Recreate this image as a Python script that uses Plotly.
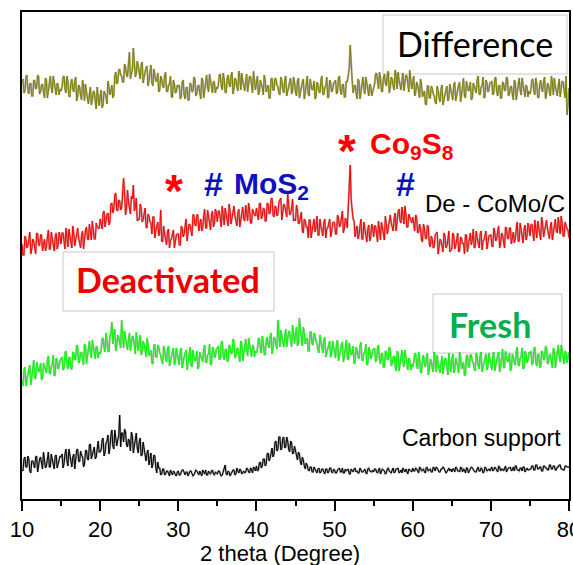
import numpy as np
import plotly.graph_objects as go

# 2-theta scan grid (degrees), 0.125 deg steps
two_theta = np.linspace(10, 80, 561)

# Intensities (arbitrary units, traces offset vertically as in the figure)
# *_a: readings at 10.00, 10.25, ... ; *_b: readings in between (10.125, 10.375, ...)
difference_a = [
    419,407,423,410,416,404,420,411,425,406,415,408,422,402,418,412,424,409,417,405,
    409,423,411,424,404,417,411,419,399,415,404,420,399,408,396,413,400,408,391,404,
    403,392,409,403,419,405,415,405,428,418,431,424,418,433,423,448,429,452,423,439,
    425,435,417,428,434,419,435,414,424,419,408,424,414,424,409,415,424,403,416,408,
    413,401,418,405,412,400,417,408,423,404,414,407,422,402,419,413,426,411,419,407,
    411,425,414,427,408,421,416,424,406,422,413,429,410,419,409,426,415,423,407,420,
    417,405,420,412,425,408,415,402,422,410,421,413,405,419,407,424,411,418,406,423,
    408,419,402,414,421,407,424,404,415,411,401,418,409,420,406,413,423,403,417,410,
    418,406,422,409,415,403,419,425,455,420,414,407,421,401,417,411,423,408,416,404,
    412,426,415,428,409,422,417,425,407,423,414,430,411,420,410,427,416,424,408,421,
    417,404,418,409,421,403,409,395,414,402,412,404,396,410,398,415,403,410,399,416,
    404,415,399,411,418,405,422,402,414,410,400,417,409,420,406,413,423,403,417,410,
    417,405,421,408,414,402,418,409,423,404,413,406,420,400,416,410,422,407,415,403,
    406,420,409,422,403,416,411,419,401,417,408,424,405,414,404,421,410,418,402,385,
    412,
]
difference_b = [
    421,409,425,406,417,404,419,412,423,408,416,402,420,410,424,407,418,405,415,411,
    413,424,407,418,403,421,408,423,404,413,400,414,416,401,406,395,409,399,413,394,
    410,395,406,396,413,409,402,424,416,430,425,418,436,425,436,421,431,440,426,434,
    421,438,424,432,414,428,417,431,419,427,410,421,412,428,408,416,403,420,407,415,
    415,403,420,401,413,400,416,409,421,406,415,401,420,410,425,408,420,407,417,413,
    415,426,410,421,407,425,413,428,411,420,409,423,427,412,419,408,424,414,429,410,
    424,408,417,405,419,412,402,421,410,422,415,407,423,411,420,404,413,422,409,418,
    404,422,409,418,401,416,406,421,410,419,403,415,407,424,405,414,402,420,408,417,
    420,408,424,405,416,403,418,432,428,407,415,401,419,409,423,406,417,404,414,410,
    416,427,411,422,408,426,414,429,412,421,410,424,428,413,420,409,425,415,430,411,
    424,407,415,402,415,407,396,414,402,414,406,398,414,402,411,395,405,414,402,411,
    400,418,406,415,398,414,404,419,409,418,402,414,407,424,405,414,402,420,408,417,
    419,407,423,404,415,402,417,410,421,406,414,400,418,408,422,405,416,403,413,409,
    410,421,405,416,402,420,408,423,406,415,404,418,422,407,414,403,419,409,424,395,
]
deactivated_a = [
    256,245,261,254,268,251,259,246,266,254,265,257,249,263,251,268,256,263,251,268,
    256,267,251,263,271,257,274,254,266,262,252,269,261,273,260,268,279,261,277,272,
    281,271,289,278,287,278,297,291,307,289,299,292,322,285,310,293,304,315,293,279,
    280,292,280,292,272,284,277,283,262,275,264,290,258,266,255,271,260,268,252,265,
    266,255,272,266,281,266,275,264,285,274,285,277,269,284,272,290,277,285,273,291,
    278,289,273,285,292,279,296,276,288,284,274,291,282,293,279,287,297,277,291,285,
    292,280,297,284,291,279,296,287,302,283,293,286,300,280,296,290,306,285,292,279,
    279,290,277,288,267,279,273,280,262,278,268,284,265,274,264,281,271,279,263,277,
    277,266,282,275,289,272,279,295,335,290,279,270,261,274,261,278,265,271,259,276,
    263,274,258,270,278,265,284,266,279,277,269,287,279,291,277,284,294,273,286,278,
    283,269,283,268,272,258,272,261,273,253,261,253,266,246,261,255,267,252,260,248,
    251,265,254,267,249,262,257,265,248,264,255,271,253,262,252,269,259,267,251,264,
    265,253,268,261,274,257,265,252,272,261,272,264,257,271,259,277,264,271,260,277,
    264,276,259,272,279,265,283,263,274,271,261,278,269,281,267,274,284,264,278,271,
    262,
]
deactivated_b = [
    245,264,252,262,246,261,252,267,256,265,249,261,253,270,251,260,249,267,255,264,
    267,255,272,253,265,252,267,260,272,257,265,251,270,261,276,260,272,261,273,271,
    274,287,273,286,275,296,287,305,290,300,290,304,308,292,298,286,301,289,302,281,
    296,278,286,273,286,278,266,283,269,278,269,259,274,261,269,252,261,270,257,266,
    255,274,263,274,259,276,268,285,275,285,269,281,273,291,272,282,270,289,277,287,
    289,277,294,275,286,274,289,282,294,279,287,273,291,281,295,279,290,277,287,284,
    285,296,281,292,279,297,286,301,285,294,284,298,302,287,294,283,298,287,301,281,
    295,276,283,269,281,273,262,280,269,281,273,265,281,269,278,262,272,281,268,278,
    266,285,273,283,267,282,272,310,300,281,263,274,265,281,261,270,258,275,263,272,
    274,262,279,260,272,260,277,272,285,272,282,269,288,279,293,276,287,273,282,277,
    276,285,267,276,260,276,262,275,256,264,252,265,268,253,259,248,264,254,269,250,
    267,251,260,248,263,256,246,265,255,267,260,252,269,257,266,250,260,269,256,265,
    254,272,259,269,252,267,258,273,262,272,256,268,261,278,259,269,257,275,264,273,
    275,264,280,262,273,260,276,269,280,266,274,260,278,269,283,266,277,264,274,270,
]
fresh_a = [
    118,130,114,127,135,122,140,121,133,129,120,137,129,140,127,134,145,125,140,133,
    141,130,147,135,142,131,148,140,155,137,147,141,156,136,153,147,160,145,154,142,
    146,161,152,167,149,163,178,167,149,165,156,180,152,161,150,167,155,163,146,159,
    158,145,159,150,162,144,150,136,155,143,153,145,136,150,138,154,141,148,135,152,
    139,149,132,143,150,136,153,133,144,141,131,148,140,151,138,145,156,136,151,144,
    152,140,157,144,150,139,155,146,161,142,151,144,159,139,155,149,162,147,155,143,
    147,161,151,164,146,159,155,163,146,163,155,180,153,163,153,171,160,168,153,166,
    166,154,182,161,173,156,162,149,168,155,165,156,147,160,147,163,149,155,143,159,
    146,157,139,151,158,143,160,140,150,146,136,153,143,154,140,147,156,136,150,143,
    150,138,153,140,146,133,149,140,153,134,143,135,149,129,144,138,150,134,142,130,
    133,146,135,148,128,141,136,143,125,141,132,148,128,137,127,144,133,141,125,138,
    139,127,142,134,148,131,138,125,145,133,145,137,129,143,131,148,135,142,130,147,
    134,145,129,141,148,134,151,132,143,139,129,146,137,149,135,142,152,132,146,140,
    147,135,151,138,145,133,149,140,154,136,145,138,152,132,149,143,155,140,149,137,
    148,
]
fresh_b = [
    114,133,121,131,115,131,122,138,128,137,122,134,127,144,126,135,124,142,131,140,
    143,132,149,131,143,131,147,141,153,139,148,135,154,144,159,142,154,141,152,148,
    150,162,148,161,148,167,156,171,154,163,152,166,169,154,160,149,164,154,168,149,
    165,148,156,143,156,148,137,155,143,155,147,139,154,142,151,134,143,152,138,147,
    135,152,139,147,130,145,135,150,139,149,133,145,138,155,137,146,135,153,142,151,
    154,142,159,140,151,139,154,147,159,144,152,138,157,147,161,144,156,143,153,149,
    151,162,147,158,145,163,152,167,151,161,151,166,170,156,163,153,169,159,175,156,
    173,157,166,154,167,160,149,168,156,167,159,150,165,152,160,143,151,159,146,154,
    142,160,146,155,138,152,142,157,145,154,138,150,141,158,139,148,135,153,141,150,
    152,140,155,136,147,133,148,141,151,136,144,129,147,137,150,133,144,130,140,136,
    137,147,131,142,127,145,133,147,130,139,128,142,145,130,137,126,142,132,147,128,
    146,130,139,127,142,135,125,144,133,145,139,131,147,135,144,128,137,146,133,142,
    130,148,136,145,128,143,133,149,138,147,131,143,135,153,134,143,131,149,137,147,
    149,137,153,134,146,133,148,141,152,138,146,132,150,140,155,138,149,136,147,143,
]
carbon_a = [
    30,41,33,44,29,39,36,43,28,41,35,48,32,40,33,46,37,44,32,42,
    43,32,46,39,51,37,43,31,50,39,49,43,36,50,40,56,45,53,43,59,
    48,60,44,57,65,52,70,51,63,60,85,67,58,68,53,59,68,47,60,52,
    58,44,58,43,47,35,47,36,44,27,32,25,31,25,29,26,30,25,28,24,
    29,25,30,26,28,24,29,27,25,30,26,29,24,28,30,25,27,29,26,28,
    26,29,24,28,35,25,28,26,30,25,32,27,30,28,27,32,28,32,27,32,
    34,30,38,34,41,36,47,42,52,46,59,51,63,52,63,53,59,48,57,47,
    50,40,46,35,40,31,35,29,33,28,31,27,32,28,31,26,31,28,32,27,
    30,27,31,28,32,27,29,31,26,30,31,28,27,32,28,30,27,31,29,28,
    28,31,27,32,28,30,26,31,29,27,32,28,31,27,30,32,28,27,31,30,
    32,29,31,27,32,30,28,33,29,31,28,32,33,29,28,31,32,27,31,29,
    28,31,33,29,28,32,31,27,32,29,33,30,28,31,29,32,27,33,29,31,
    32,29,33,30,34,29,31,33,28,32,33,30,29,34,30,32,29,33,31,30,
    31,34,30,35,31,33,29,34,32,30,35,31,34,30,33,35,31,30,34,33,
    33,
]
carbon_b = [
    29,43,33,41,27,39,32,44,35,43,31,40,34,48,33,41,31,45,37,44,
    46,36,51,34,44,33,46,40,51,38,45,33,49,41,55,41,52,41,51,48,
    50,62,47,59,46,65,54,70,54,64,53,67,71,55,61,49,64,53,67,47,
    62,45,52,39,50,41,32,45,32,38,32,26,31,26,29,24,26,29,25,28,
    25,28,30,25,28,26,29,24,28,29,25,27,30,26,25,29,26,30,25,27,
    29,26,25,30,26,29,24,28,30,26,29,31,26,29,28,31,27,31,33,29,
    29,37,32,41,34,46,39,50,43,58,49,63,50,62,52,63,51,59,46,54,
    44,48,38,43,34,37,30,33,28,33,28,31,27,31,28,31,27,32,28,31,
    27,30,32,28,27,31,30,26,31,28,32,29,27,30,28,31,26,32,28,30,
    31,28,30,26,31,29,27,32,28,30,27,31,32,28,27,30,31,26,30,28,
    29,32,28,33,29,31,27,32,30,28,33,29,32,28,31,33,29,28,32,31,
    31,28,32,29,33,28,30,32,27,31,32,29,28,33,29,31,28,32,30,29,
    33,30,32,28,33,31,29,34,30,32,29,33,34,30,29,32,33,28,32,30,
    31,34,30,35,31,33,29,34,32,30,35,31,34,30,33,35,31,30,34,33,
]


def merge(a, b):
    out = []
    for i, v in enumerate(a):
        out.append(v)
        if i < len(b):
            out.append(b[i])
    return out


difference = merge(difference_a, difference_b)
deactivated = merge(deactivated_a, deactivated_b)
fresh = merge(fresh_a, fresh_b)
carbon = merge(carbon_a, carbon_b)
for s in (difference, deactivated, fresh, carbon):
    assert len(s) == len(two_theta), len(s)

x_ticks = [10, 20, 30, 40, 50, 60, 70, 80]

series = [
    (difference, "#808000", "rgba(125,125,105,0.6)"),
    (deactivated, "#ff0000", "rgba(160,80,80,0.6)"),
    (fresh, "#00ff00", "rgba(100,160,100,0.6)"),
    (carbon, "#000000", "rgba(100,100,100,0.6)"),
]

W, H = 573, 565
L, R, T, B = 22, 4, 12, 66
pw, ph = W - L - R, H - T - B


def px(x):
    return (x - L) / pw


def py(y):
    return (H - B - y) / ph


fig = go.Figure()
for ys, col, edge in series:
    fig.add_trace(go.Scatter(x=two_theta, y=ys, mode="lines",
                             line=dict(color=edge, width=2), hoverinfo="skip",
                             showlegend=False, cliponaxis=True))
    fig.add_trace(go.Scatter(x=two_theta, y=ys, mode="lines",
                             line=dict(color=col, width=1), hoverinfo="skip",
                             showlegend=False, cliponaxis=True))

ARIAL = "Liberation Sans, Arial"
CAL = "Lato, Carlito, Calibri"

shapes = []
for x0, y0, x1, y1 in [(383, 15, 567, 74), (63, 252, 274, 311), (433, 294, 562, 353)]:
    shapes.append(dict(type="rect", xref="paper", yref="paper",
                       x0=px(x0), x1=px(x1), y0=py(y1), y1=py(y0),
                       line=dict(color="#c8c8c8", width=1), fillcolor="white",
                       layer="below"))

anns = []


def ann(text, x, y, size, color, family, xanchor="center"):
    anns.append(dict(text=text, x=px(x), y=py(y), xref="paper", yref="paper",
                     xanchor=xanchor, yanchor="middle", showarrow=False,
                     font=dict(size=size, color=color, family=family)))


ann("Difference", 475, 43, 34, "black", CAL)
ann("<b>Deactivated</b>", 168, 280, 34, "#ee0000", CAL)
ann("<b>Fresh</b>", 490, 324, 34, "#00b050", CAL)
ann("Carbon support", 400, 438, 23, "black", ARIAL, "left")
ann("De - CoMo/C", 423, 203, 24, "black", ARIAL, "left")
ann("<b>*</b>", 347, 151, 46, "#ff0000", ARIAL)
ann("<b>Co<sub>9</sub>S<sub>8</sub></b>", 368, 146, 30, "#ff0000", ARIAL, "left")
ann("<b>*</b>", 174, 191, 46, "#ff0000", ARIAL)
ann("<b>#</b>", 213, 184, 34, "#1010c0", ARIAL)
ann("<b>MoS<sub>2</sub></b>", 232, 186, 30, "#1010c0", ARIAL, "left")
ann("<b>#</b>", 405, 184, 34, "#1010c0", ARIAL)
ann("2 theta (Degree)", 280, 553, 22, "black", ARIAL)

fig.update_layout(
    width=W, height=H,
    margin=dict(l=L, r=R, t=T, b=B, autoexpand=False),
    paper_bgcolor="white", plot_bgcolor="white",
    shapes=shapes, annotations=anns,
    xaxis=dict(range=[10, 80], tickvals=x_ticks, ticks="outside", ticklen=10,
               tickwidth=2, tickcolor="black", showline=True, linewidth=2,
               linecolor="black", mirror=True, showgrid=False, zeroline=False,
               automargin=False, ticklabeloverflow="allow",
               tickfont=dict(size=22, color="black", family=ARIAL),
               minor=dict(dtick=5, tick0=10, ticks="outside", ticklen=5,
                          tickwidth=2, tickcolor="black")),
    yaxis=dict(range=[1, 488], showticklabels=False, ticks="", showline=True,
               linewidth=2, linecolor="black", mirror=True, showgrid=False,
               zeroline=False, automargin=False),
)

fig.write_html("out.html")
